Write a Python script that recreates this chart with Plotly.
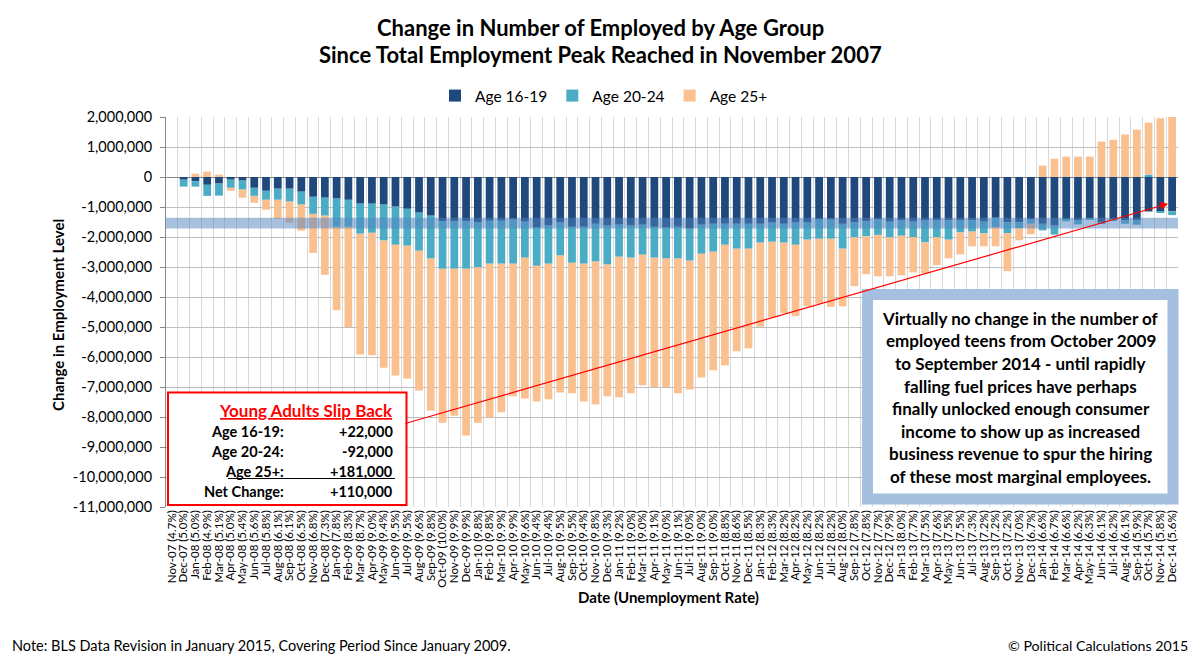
import plotly.graph_objects as go

months = [
    "Nov-07", "Dec-07",
    "Jan-08", "Feb-08", "Mar-08", "Apr-08", "May-08", "Jun-08", "Jul-08", "Aug-08", "Sep-08", "Oct-08", "Nov-08", "Dec-08",
    "Jan-09", "Feb-09", "Mar-09", "Apr-09", "May-09", "Jun-09", "Jul-09", "Aug-09", "Sep-09", "Oct-09", "Nov-09", "Dec-09",
    "Jan-10", "Feb-10", "Mar-10", "Apr-10", "May-10", "Jun-10", "Jul-10", "Aug-10", "Sep-10", "Oct-10", "Nov-10", "Dec-10",
    "Jan-11", "Feb-11", "Mar-11", "Apr-11", "May-11", "Jun-11", "Jul-11", "Aug-11", "Sep-11", "Oct-11", "Nov-11", "Dec-11",
    "Jan-12", "Feb-12", "Mar-12", "Apr-12", "May-12", "Jun-12", "Jul-12", "Aug-12", "Sep-12", "Oct-12", "Nov-12", "Dec-12",
    "Jan-13", "Feb-13", "Mar-13", "Apr-13", "May-13", "Jun-13", "Jul-13", "Aug-13", "Sep-13", "Oct-13", "Nov-13", "Dec-13",
    "Jan-14", "Feb-14", "Mar-14", "Apr-14", "May-14", "Jun-14", "Jul-14", "Aug-14", "Sep-14", "Oct-14", "Nov-14", "Dec-14",
]

unemployment_rate = [
    "4.7", "5.0",
    "5.0", "4.9", "5.1", "5.0", "5.4", "5.6", "5.8", "6.1", "6.1", "6.5", "6.8", "7.3",
    "7.8", "8.3", "8.7", "9.0", "9.4", "9.5", "9.5", "9.6", "9.8", "10.0", "9.9", "9.9",
    "9.8", "9.8", "9.9", "9.9", "9.6", "9.4", "9.4", "9.5", "9.5", "9.4", "9.8", "9.3",
    "9.2", "9.0", "9.0", "9.1", "9.0", "9.1", "9.0", "9.0", "9.0", "8.8", "8.6", "8.5",
    "8.3", "8.3", "8.2", "8.2", "8.2", "8.2", "8.2", "8.0", "7.8", "7.8", "7.7", "7.9",
    "8.0", "7.7", "7.5", "7.6", "7.5", "7.5", "7.3", "7.2", "7.2", "7.2", "7.0", "6.7",
    "6.6", "6.7", "6.6", "6.2", "6.3", "6.1", "6.2", "6.1", "5.9", "5.7", "5.8", "5.6",
]

# change in employment level, thousands
age_16_19 = [
    0, -90,
    -140, -260, -220, -90, -120, -360, -460, -390, -390, -490, -660, -690,
    -720, -760, -890, -890, -920, -990, -1060, -1190, -1290, -1480, -1480, -1480,
    -1520, -1460, -1460, -1420, -1490, -1690, -1620, -1520, -1660, -1660, -1560, -1620,
    -1590, -1620, -1590, -1660, -1690, -1660, -1720, -1590, -1560, -1560, -1560, -1560,
    -1560, -1520, -1560, -1520, -1520, -1420, -1420, -1560, -1500, -1480, -1420, -1490,
    -1450, -1490, -1450, -1450, -1450, -1450, -1450, -1490, -1360, -1510, -1510, -1420,
    -1560, -1600, -1400, -1450, -1380, -1530, -1420, -1450, -1450, -1150, -1165, -1143,
]
age_20_24 = [
    0, -230,
    -180, -370, -400, -270, -300, -270, -300, -370, -430, -430, -570, -600,
    -940, -900, -1000, -970, -1200, -1270, -1230, -1270, -1430, -1580, -1580, -1580,
    -1490, -1430, -1430, -1470, -1200, -1270, -1270, -1100, -1200, -1230, -1260, -1300,
    -1070, -1070, -1000, -1030, -1030, -1060, -1070, -970, -930, -700, -830, -830,
    -630, -640, -630, -740, -570, -640, -640, -830, -510, -500, -510, -520,
    -510, -520, -730, -560, -640, -400, -370, -390, -310, -360, -200, -140,
    -220, -320, -80, -130, -30, -20, -20, -110, -140, 80, -35, -127,
]
age_25_plus = [
    0, 0,
    110, 180, 80, -100, -270, -230, -330, -630, -700, -870, -1300, -1970,
    -2780, -3340, -4030, -4080, -4240, -4360, -4430, -4660, -5070, -5130, -4900, -5560,
    -5180, -5130, -4950, -4420, -4690, -4520, -4520, -4560, -4350, -4590, -4760, -4390,
    -4680, -4520, -4350, -4320, -4280, -4490, -4290, -4120, -3950, -4020, -3420, -3320,
    -2800, -2520, -2350, -2380, -2220, -2160, -2270, -1920, -1630, -1260, -1380, -1300,
    -1320, -1170, -1030, -930, -620, -730, -490, -430, -640, -1270, -400, -350,
    380, 610, 680, 680, 680, 1180, 1240, 1420, 1580, 1730, 1960, 2141,
]

series_names = ["Age 16-19", "Age 20-24", "Age 25+"]
series_colors = ["#1F497D", "#4BACC6", "#FAC090"]

y_tick_values = [2000000, 1000000, 0, -1000000, -2000000, -3000000, -4000000, -5000000,
                 -6000000, -7000000, -8000000, -9000000, -10000000, -11000000]
y_tick_labels = [f"{v:,}" for v in y_tick_values]

box_lines = [
    "Virtually no change in the number of",
    "employed teens from October 2009",
    "to September 2014 - until rapidly",
    "falling fuel prices have perhaps",
    "finally unlocked enough consumer",
    "income to show up as increased",
    "business revenue to spur the hiring",
    "of these most marginal employees.",
]
slip_labels = ["Age 16-19:", "Age 20-24:", "Age 25+:", "Net Change:"]
slip_values = ["+22,000", "-92,000", "+181,000", "+110,000"]

categories = [f"{m} ({r}%)" for m, r in zip(months, unemployment_rate)]

FONT = "Lato"
W, H = 1201, 663
L, R, T, B = 166, 1178, 117, 507


def px(x):
    return (x - L) / (R - L)


def py(y):
    return (B - y) / (B - T)


fig = go.Figure()
for name, vals, col in zip(series_names, [age_16_19, age_20_24, age_25_plus], series_colors):
    fig.add_trace(go.Bar(
        x=categories, y=[v * 1000 for v in vals], name=name,
        marker=dict(color=col, line=dict(width=0)),
    ))

shapes = []
# translucent band
shapes.append(dict(type="rect", xref="paper", yref="y", x0=0, x1=1, y0=-1357000, y1=-1713000,
                   fillcolor="rgba(79,129,189,0.5)", line=dict(width=0), layer="above"))
# left box
shapes.append(dict(type="rect", xref="paper", yref="paper", x0=px(168), x1=px(406.5), y0=py(392.5), y1=py(505),
                   fillcolor="white", line=dict(color="#FF0000", width=2), layer="above"))
shapes.append(dict(type="line", xref="paper", yref="paper", x0=px(228), x1=px(395), y0=py(478.5), y1=py(478.5),
                   line=dict(color="black", width=1), layer="above"))
# right box
shapes.append(dict(type="rect", xref="paper", yref="paper", x0=px(867.5), x1=px(1173), y0=py(294.5), y1=py(499),
                   fillcolor="white", line=dict(color="#A5BFDF", width=11), layer="above"))

ann = []
ann.append(dict(xref="paper", yref="paper", x=px(600.5), y=py(28), text="<b>Change in Number of Employed by Age Group</b>",
                showarrow=False, font=dict(family=FONT, size=22, color="black"), xanchor="center", yanchor="middle"))
ann.append(dict(xref="paper", yref="paper", x=px(600.5), y=py(55), text="<b>Since Total Employment Peak Reached in November 2007</b>",
                showarrow=False, font=dict(family=FONT, size=22, color="black"), xanchor="center", yanchor="middle"))
ann.append(dict(xref="paper", yref="paper", x=px(58), y=py(315), text="<b>Change in Employment Level</b>", textangle=-90,
                showarrow=False, font=dict(family=FONT, size=15, color="black"), xanchor="center", yanchor="middle"))
ann.append(dict(xref="paper", yref="paper", x=px(668), y=py(597), text="<b>Date (Unemployment Rate)</b>",
                showarrow=False, font=dict(family=FONT, size=15, color="black"), xanchor="center", yanchor="middle"))
ann.append(dict(xref="paper", yref="paper", x=px(10), y=py(645),
                text="Note: BLS Data Revision in January 2015, Covering Period Since January 2009.",
                showarrow=False, font=dict(family=FONT, size=14.5, color="black"), xanchor="left", yanchor="middle"))
ann.append(dict(xref="paper", yref="paper", x=px(1190), y=py(645), text="© Political Calculations 2015",
                showarrow=False, font=dict(family=FONT, size=14.2, color="black"), xanchor="right", yanchor="middle"))
# arrow
ann.append(dict(xref="x", yref="y", x=84.66, y=-890000, axref="x", ayref="y", ax=19.7, ay=-8230000,
                text="", showarrow=True, arrowhead=2, arrowsize=1.3, arrowwidth=1.2, arrowcolor="#FF0000", standoff=0))
# left box text
ann.append(dict(xref="paper", yref="paper", x=px(395), y=py(410), text="<b><u>Young Adults Slip Back</u></b>",
                showarrow=False, font=dict(family=FONT, size=17, color="#FF0000"), xanchor="right", yanchor="middle"))
for i, (lab, val) in enumerate(zip(slip_labels, slip_values)):
    yy = [431, 451.5, 471, 491][i]
    ann.append(dict(xref="paper", yref="paper", x=px(286), y=py(yy), text=f"<b>{lab}</b>",
                    showarrow=False, font=dict(family=FONT, size=14.5, color="black"), xanchor="right", yanchor="middle"))
    ann.append(dict(xref="paper", yref="paper", x=px(395), y=py(yy), text=f"<b>{val}</b>",
                    showarrow=False, font=dict(family=FONT, size=14.5, color="black"), xanchor="right", yanchor="middle"))
# right box text
for i, line in enumerate(box_lines):
    ann.append(dict(xref="paper", yref="paper", x=px(1020.5), y=py(318.3 + 22.6 * i), text=f"<b>{line}</b>",
                    showarrow=False, font=dict(family=FONT, size=17, color="black"), xanchor="center", yanchor="middle"))

fig.update_layout(
    width=W, height=H, autosize=False,
    margin=dict(l=L, r=W - R, t=T, b=H - B, pad=0),
    barmode="relative", bargap=0.34,
    paper_bgcolor="white", plot_bgcolor="white",
    font=dict(family=FONT, color="black"),
    legend=dict(orientation="h", x=px(604), xanchor="center", y=py(96), yanchor="middle",
                font=dict(family=FONT, size=15.5, color="black"), traceorder="normal",
                itemwidth=30, bgcolor="rgba(0,0,0,0)"),
    shapes=shapes, annotations=ann,
    xaxis=dict(type="category", tickmode="array", tickvals=categories, ticktext=categories,
               tickangle=-90, tickfont=dict(family=FONT, size=11.5, color="black"),
               tickson="boundaries", showgrid=True, gridcolor="#D9D9D9", gridwidth=1,
               ticks="", showline=False, range=[-0.5, len(categories) - 0.5], fixedrange=True),
    yaxis=dict(range=[-11000000, 2000000], tickmode="array", tickvals=y_tick_values, ticktext=y_tick_labels,
               tickfont=dict(family=FONT, size=14.5, color="black"), showgrid=True, gridcolor="#BFBFBF",
               gridwidth=1, zeroline=True, zerolinecolor="#868686", zerolinewidth=1,
               showline=True, linecolor="#868686", linewidth=1, ticks="outside", ticklen=5,
               tickcolor="#868686", ticklabelstandoff=5, fixedrange=True),
)

fig.write_html("out.html", config={"displayModeBar": False},
               post_script="document.body.style.margin='0px';")
